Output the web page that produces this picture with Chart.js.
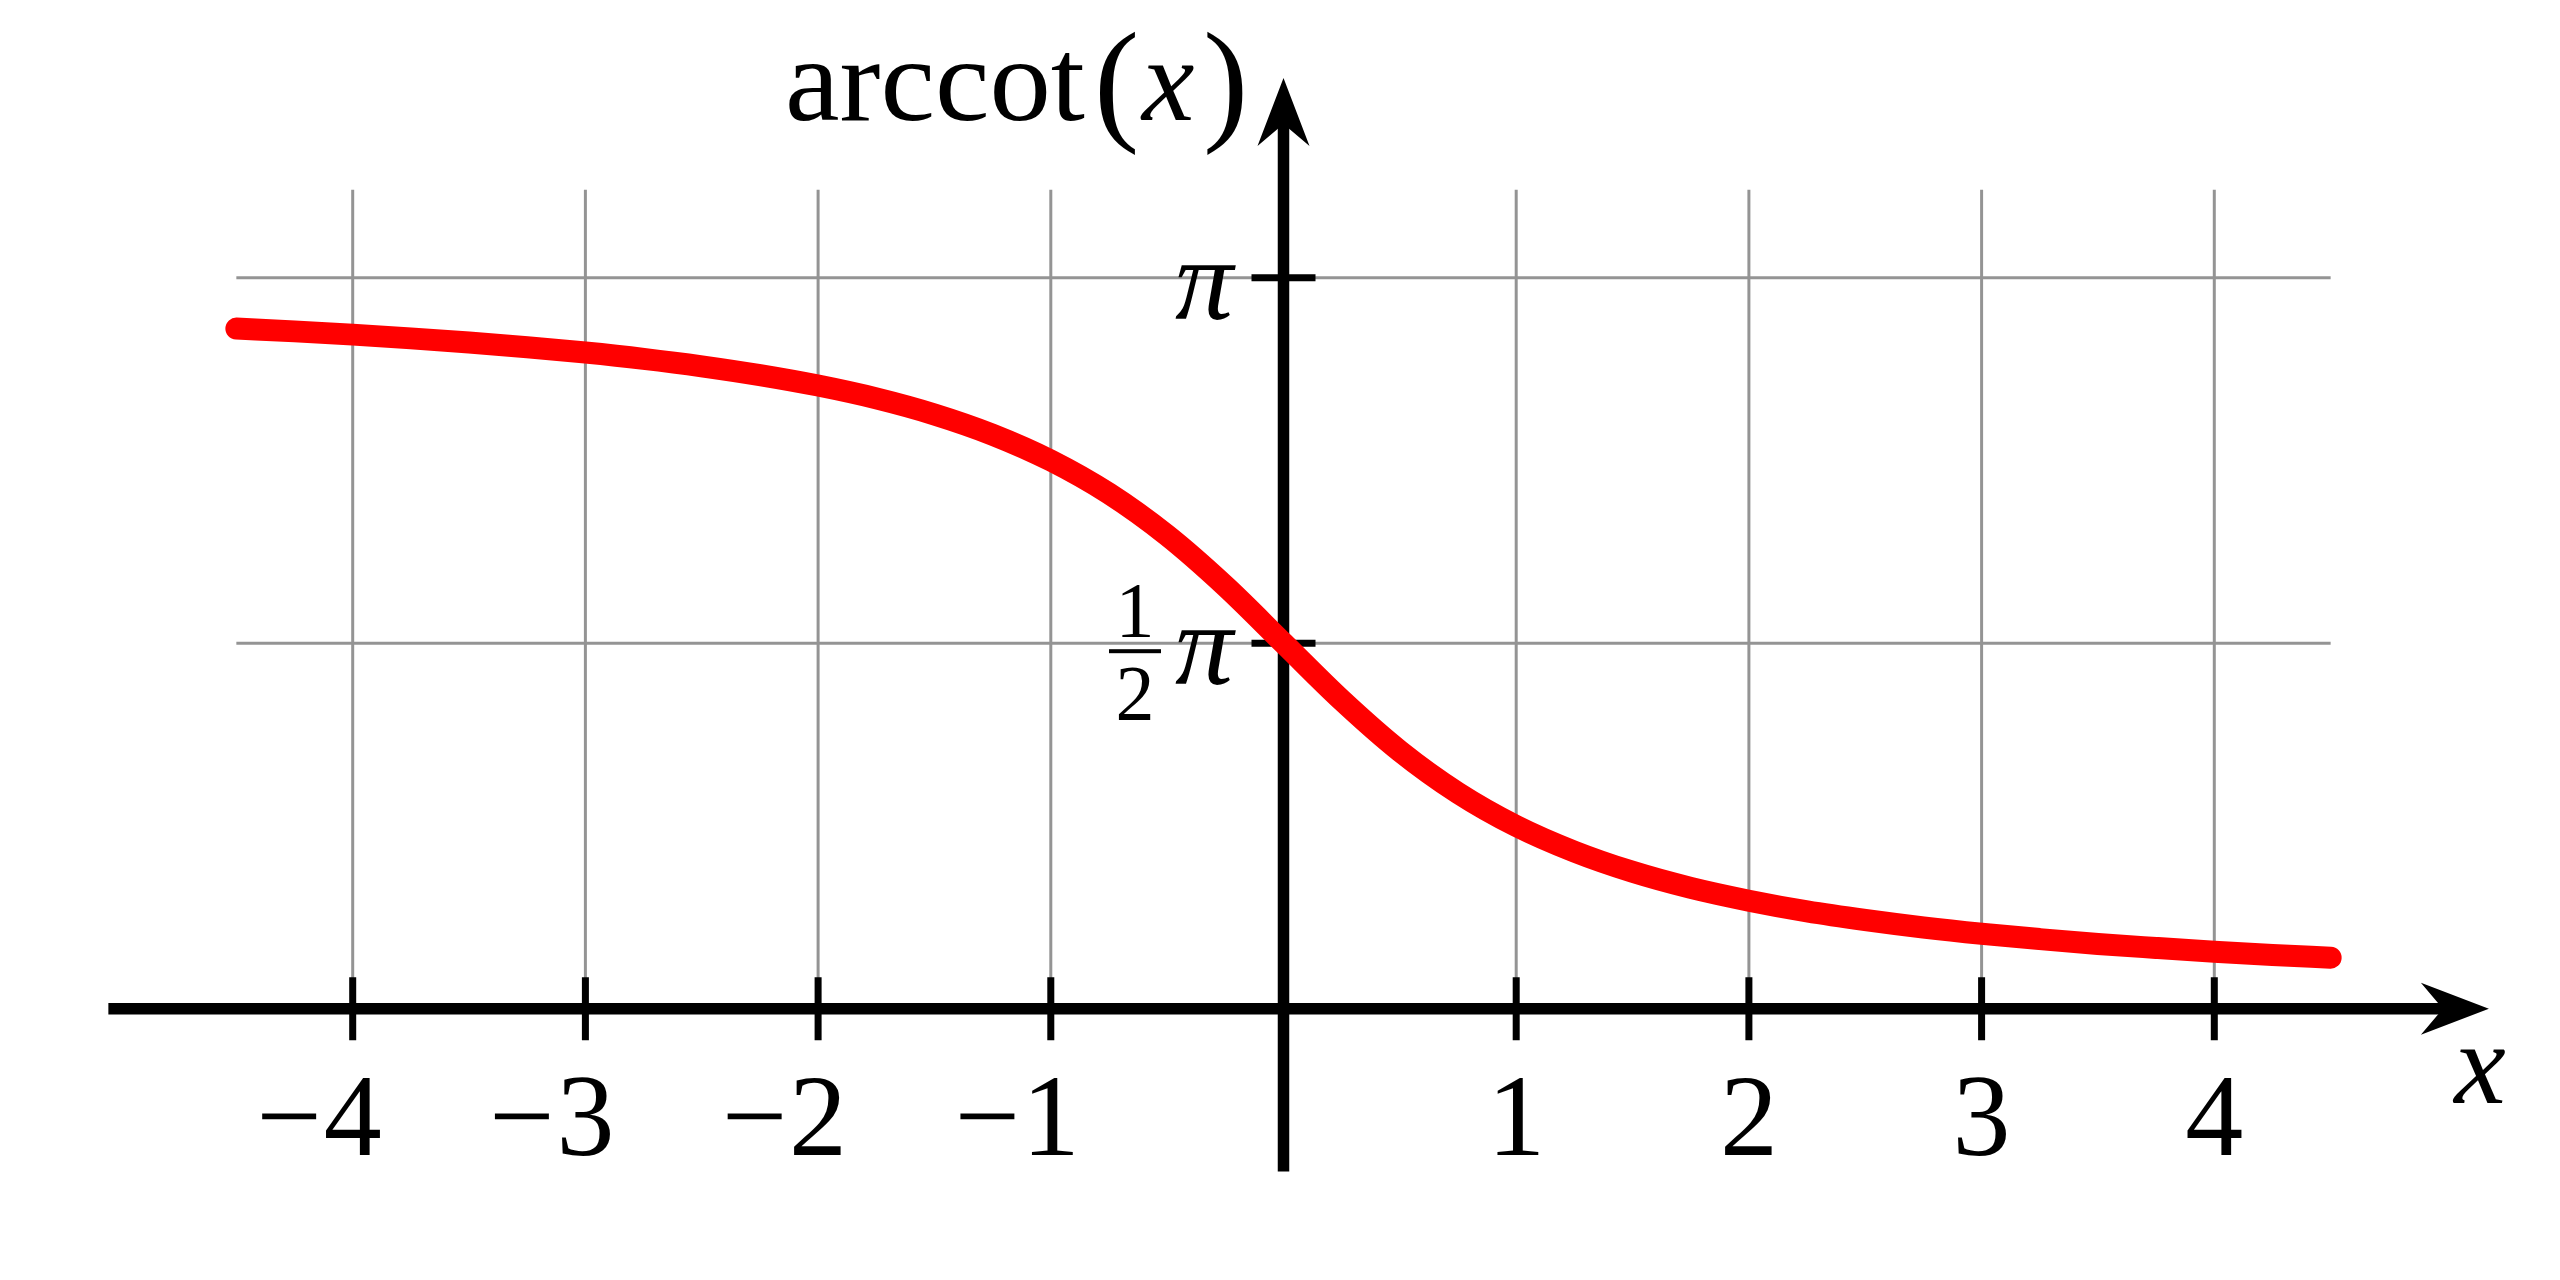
<!DOCTYPE html>
<html>
<head>
<meta charset="utf-8">
<script src="https://cdn.jsdelivr.net/npm/chart.js@4/dist/chart.umd.min.js"></script>
<style>
  html, body { margin: 0; padding: 0; background: #ffffff; }
  canvas { display: block; }
</style>
</head>
<body>
<canvas id="arccotChart" width="2560" height="1280"></canvas>
<script>
// Değerler (x adımı 0.25)
const xValues = [
  -4.5, -4.25, -4, -3.75, -3.5, -3.25, -3, -2.75, -2.5, -2.25, -2, -1.75, -1.5, -1.25, -1, -0.75, -0.5, -0.25,
  0,
  0.25, 0.5, 0.75, 1, 1.25, 1.5, 1.75, 2, 2.25, 2.5, 2.75, 3, 3.25, 3.5, 3.75, 4, 4.25, 4.5
];
const arccotValues = [
  2.923, 2.911, 2.897, 2.881, 2.863, 2.843, 2.820, 2.793, 2.761, 2.723, 2.678, 2.623, 2.554, 2.467, 2.356, 2.214, 2.034, 1.816,
  1.571,
  1.326, 1.107, 0.927, 0.785, 0.675, 0.588, 0.519, 0.464, 0.418, 0.381, 0.349, 0.322, 0.299, 0.278, 0.261, 0.245, 0.231, 0.219
];

const xTicks = [-4, -3, -2, -1, 1, 2, 3, 4];
const xTickDigits = ['4', '3', '2', '1', '1', '2', '3', '4'];
const yTicks = [3.1416, 1.5708];        // π ve π/2
const xAxisRange = [-5.05, 5.18];       // ok ucu dahil
const yAxisRange = [-0.70, 4.00];
const gridTop = 3.52;

const AXIS = {
  color: '#000000',
  gridColor: 'rgba(0, 0, 0, 0.42)',
  font: '"Liberation Serif", "DejaVu Serif", serif'
};

// Eksenler, ızgara, oklar ve etiketler
const axesPlugin = {
  id: 'axesPlugin',
  beforeDatasetsDraw(chart) {
    const ctx = chart.ctx;
    const xs = chart.scales.x, ys = chart.scales.y;
    const px = v => xs.getPixelForValue(v);
    const py = v => ys.getPixelForValue(v);
    const x0 = px(0), y0 = py(0);

    ctx.save();

    // ızgara
    ctx.strokeStyle = AXIS.gridColor;
    ctx.lineWidth = 3;
    ctx.beginPath();
    xTicks.forEach(t => {
      ctx.moveTo(px(t), py(gridTop));
      ctx.lineTo(px(t), y0);
    });
    yTicks.forEach(t => {
      ctx.moveTo(px(xValues[0]), py(t));
      ctx.lineTo(px(xValues[xValues.length - 1]), py(t));
    });
    ctx.stroke();

    // x ekseni
    ctx.strokeStyle = AXIS.color;
    ctx.fillStyle = AXIS.color;
    ctx.lineWidth = 11.5;
    const xTip = px(xAxisRange[1]);
    ctx.beginPath();
    ctx.moveTo(px(xAxisRange[0]), y0);
    ctx.lineTo(xTip - 45, y0);
    ctx.stroke();
    ctx.beginPath();
    ctx.moveTo(xTip, y0);
    ctx.lineTo(xTip - 68, y0 - 26);
    ctx.lineTo(xTip - 46, y0);
    ctx.lineTo(xTip - 68, y0 + 26);
    ctx.closePath();
    ctx.fill();

    // y ekseni
    const yTip = py(yAxisRange[1]);
    ctx.beginPath();
    ctx.moveTo(x0, py(yAxisRange[0]));
    ctx.lineTo(x0, yTip + 45);
    ctx.stroke();
    ctx.beginPath();
    ctx.moveTo(x0, yTip);
    ctx.lineTo(x0 - 26, yTip + 68);
    ctx.lineTo(x0, yTip + 46);
    ctx.lineTo(x0 + 26, yTip + 68);
    ctx.closePath();
    ctx.fill();

    // çentikler
    ctx.lineWidth = 7;
    ctx.beginPath();
    xTicks.forEach(t => {
      ctx.moveTo(px(t), y0 - 31.5);
      ctx.lineTo(px(t), y0 + 31.5);
    });
    yTicks.forEach(t => {
      ctx.moveTo(x0 - 32, py(t));
      ctx.lineTo(x0 + 32, py(t));
    });
    ctx.stroke();

    // x etiketleri: rakam çentiğe ortalı, eksi işareti solda
    ctx.font = '116px ' + AXIS.font;
    ctx.textBaseline = 'alphabetic';
    xTicks.forEach((t, i) => {
      const cx = px(t);
      ctx.textAlign = 'center';
      ctx.fillText(xTickDigits[i], cx, 1155);
      if (t < 0) {
        const w = ctx.measureText(xTickDigits[i]).width;
        ctx.textAlign = 'right';
        ctx.fillText('\u2212', cx - w / 2 - 2, 1155);
      }
    });

    // y etiketleri
    ctx.font = 'italic 116px ' + AXIS.font;
    ctx.textAlign = 'center';
    ctx.fillText('\u03c0', 1204, py(yTicks[0]) + 41);
    ctx.fillText('\u03c0', 1204, py(yTicks[1]) + 41);
    ctx.font = '78px ' + AXIS.font;
    ctx.fillText('1', 1135, py(yTicks[1]) - 7);
    ctx.fillText('2', 1135, py(yTicks[1]) + 76);
    ctx.fillRect(1109, py(yTicks[1]) + 6, 52, 4);

    // eksen başlıkları
    ctx.font = 'italic 116px ' + AXIS.font;
    ctx.fillText('x', 2480, 1103);

    // "arccot(x)" parça parça yerleştirilir
    ctx.textAlign = 'left';
    ctx.font = '118px ' + AXIS.font;
    const wArc = ctx.measureText('arccot').width;
    ctx.save();
    ctx.translate(785, 120);
    ctx.scale(300 / wArc, 1);
    ctx.fillText('arccot', 0, 0);
    ctx.restore();
    ctx.font = '136px ' + AXIS.font;
    ctx.fillText('(', 1094, 126);
    ctx.fillText(')', 1203, 126);
    ctx.font = 'italic 118px ' + AXIS.font;
    ctx.fillText('x', 1142, 120);

    ctx.restore();
  }
};

const points = xValues.map((x, i) => ({ x: x, y: arccotValues[i] }));

new Chart(document.getElementById('arccotChart').getContext('2d'), {
  type: 'line',
  data: {
    datasets: [{
      label: 'arccot(x)',
      data: points,
      borderColor: '#ff0000',
      borderWidth: 22,
      borderCapStyle: 'round',
      borderJoinStyle: 'round',
      cubicInterpolationMode: 'monotone',
      pointRadius: 0,
      fill: false,
      clip: false
    }]
  },
  options: {
    responsive: false,
    animation: false,
    devicePixelRatio: 1,
    layout: { padding: { left: 120, right: 113, top: 78, bottom: 155 } },
    plugins: {
      legend: { display: false },
      tooltip: { enabled: false }
    },
    scales: {
      x: { type: 'linear', min: -5, max: 5, display: false },
      y: { type: 'linear', min: -0.5, max: 4, display: false }
    }
  },
  plugins: [axesPlugin]
});
</script>
</body>
</html>
